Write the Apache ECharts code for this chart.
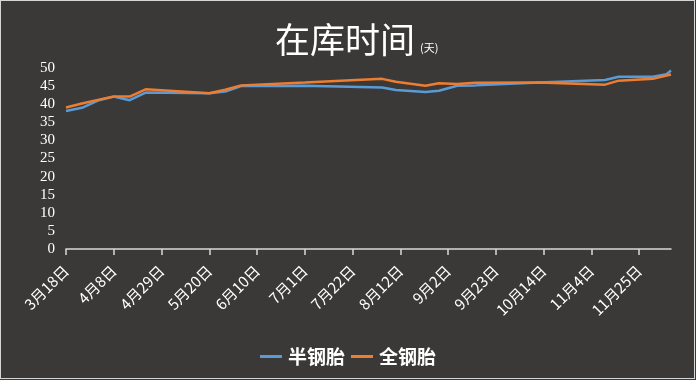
<!DOCTYPE html>
<html>
<head>
<meta charset="utf-8">
<script src="https://cdn.jsdelivr.net/npm/echarts@6/dist/echarts.min.js"></script>
<style>
html,body{margin:0;padding:0;background:#ffffff;}
#wrap{position:relative;width:696px;height:380px;}
#chart{position:absolute;left:0;top:0;width:696px;height:380px;background:#3a3937;}
#frame{position:absolute;left:0;top:0;width:695px;height:379px;box-sizing:border-box;border:1px solid #d6d6d6;pointer-events:none;}
</style>
</head>
<body>
<div id="wrap"><div id="chart"></div><div id="frame"></div></div>
<script>
// ---- data ----
const startMonth = 3, startDay = 18, axisDays = 267;
const xTickLabels = ['3月18日','4月8日','4月29日','5月20日','6月10日','7月1日','7月22日','8月12日','9月2日','9月23日','10月14日','11月4日','11月25日'];
const yTicks = [0,5,10,15,20,25,30,35,40,45,50];
const pointDates = ['3-18','3-25','4-1','4-8','4-15','4-22','5-20','5-27','6-3','7-1','8-4','8-10','8-23','8-29','9-6','9-14','10-12','11-10','11-16','12-1','12-7','12-9'];
const semiSteel = [38.1,39.0,41.0,42.1,41.1,43.2,43.0,43.5,45.0,45.1,44.6,43.9,43.4,43.7,45.1,45.2,46.0,46.7,47.6,47.6,48.3,49.3];
const allSteel  = [39.1,40.2,41.2,42.1,42.1,44.1,43.0,44.0,45.2,46.0,47.0,46.2,45.1,45.8,45.6,45.9,46.0,45.4,46.5,47.0,null,48.2];
const seriesNames = ['半钢胎','全钢胎'];
const seriesColors = ['#5b9bd5','#ed7d31'];

// ---- build category axis (one category per day) ----
const YEAR = 2019;
const t0 = Date.UTC(YEAR, startMonth-1, startDay);
const DAY = 86400000;
const categories = [];
for (let i = 0; i < axisDays; i++) {
  const d = new Date(t0 + i*DAY);
  categories.push((d.getUTCMonth()+1) + '月' + d.getUTCDate() + '日');
}
function toIndex(s){ const [m,d] = s.split('-').map(Number); return Math.round((Date.UTC(YEAR,m-1,d)-t0)/DAY); }
function buildSeries(vals){
  const arr = new Array(axisDays).fill(null);
  pointDates.forEach((s,i)=>{ if (vals[i] !== null) arr[toIndex(s)] = vals[i]; });
  return arr;
}
const showIdx = (idx, val) => xTickLabels.indexOf(categories[idx]) >= 0;

const chart = echarts.init(document.getElementById('chart'), null, {renderer:'canvas'});
chart.setOption({
  backgroundColor: '#3a3937',
  animation: false,
  title: {
    text: '{a|在库时间} {b|(天)}',
    left: 270, top: 17,
    textStyle: {
      fontWeight: 'normal',
      rich: {
        a: {fontSize: 35, color: '#ffffff', fontWeight:'normal', fontFamily: 'Noto Sans CJK SC', verticalAlign:'bottom'},
        b: {fontSize: 11, color: '#ffffff', fontWeight:'normal', fontFamily: 'Noto Sans CJK SC', verticalAlign:'bottom', padding:[0,0,4,0]}
      }
    }
  },
  legend: {
    data: seriesNames,
    left: 'center', top: 342,
    icon: 'rect', itemWidth: 22, itemHeight: 3, itemGap: 6,
    textStyle: {color:'#ffffff', fontSize: 19, fontWeight:'bold', fontFamily:'Noto Sans CJK SC', padding:[0,0,0,1]}
  },
  grid: {left: 66, right: 25, top: 68, bottom: 131, containLabel: false},
  xAxis: {
    type: 'category', boundaryGap: false, data: categories,
    axisLine: {lineStyle: {color:'#d9d9d9', width: 1.5}},
    axisTick: {show: true, interval: showIdx, length: 6, lineStyle:{color:'#d9d9d9', width: 1.5}},
    axisLabel: {interval: showIdx, rotate: 45, color:'#ffffff', fontSize: 15, fontFamily:'Noto Sans CJK SC', margin: 19},
    splitLine: {show:false}
  },
  yAxis: {
    type: 'value', min: yTicks[0], max: yTicks[yTicks.length-1], interval: 5,
    axisLine: {show:false}, axisTick: {show:false}, splitLine: {show:false},
    axisLabel: {color:'#ffffff', fontSize: 15, fontFamily:'"Liberation Serif", "DejaVu Serif", serif', margin: 11}
  },
  series: [
    {name: seriesNames[0], type:'line', data: buildSeries(semiSteel), showSymbol:false, symbol:'none', connectNulls:true,
     lineStyle:{color: seriesColors[0], width: 2.5}, itemStyle:{color: seriesColors[0]}},
    {name: seriesNames[1], type:'line', data: buildSeries(allSteel), showSymbol:false, symbol:'none', connectNulls:true,
     lineStyle:{color: seriesColors[1], width: 2.5}, itemStyle:{color: seriesColors[1]}}
  ]
});
</script>
</body>
</html>
